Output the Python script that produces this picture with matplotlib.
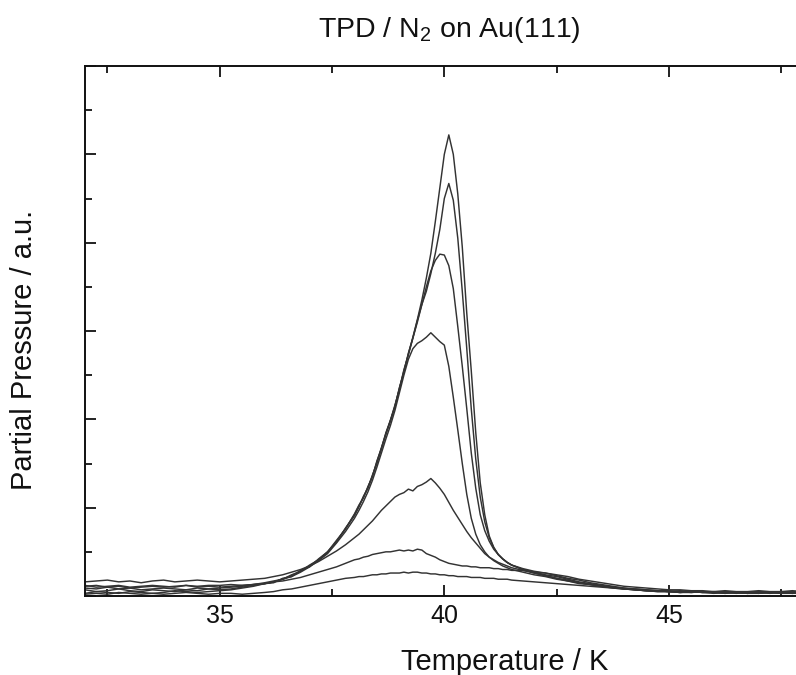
import matplotlib
matplotlib.use("Agg")
import matplotlib.pyplot as plt
from matplotlib.ticker import MultipleLocator, NullFormatter

plt.rcParams['font.family'] = ['Liberation Sans', 'DejaVu Sans']
plt.rcParams['mathtext.fontset'] = 'custom'
plt.rcParams['mathtext.rm'] = 'Liberation Sans'
plt.rcParams['mathtext.it'] = 'Liberation Sans:italic'

# ---------------- data ----------------
temperature = [
    32.0, 32.25, 32.5, 32.75, 33.0, 33.25, 33.5, 33.75, 34.0, 34.25, 34.5, 34.75,
    35.0, 35.25, 35.5, 35.75, 36.0,
    36.2, 36.4, 36.6, 36.8, 37.0, 37.2, 37.4, 37.6, 37.8, 38.0,
    38.1, 38.2, 38.3, 38.4, 38.5, 38.6, 38.7, 38.8, 38.9, 39.0,
    39.1, 39.2, 39.3, 39.4, 39.5, 39.6, 39.7, 39.8, 39.9, 40.0,
    40.1, 40.2, 40.3, 40.4, 40.5, 40.6, 40.7, 40.8, 40.9, 41.0,
    41.1, 41.2, 41.3, 41.4, 41.5,
    41.75, 42.0, 42.25, 42.5, 42.75, 43.0, 43.25, 43.5, 43.75, 44.0,
    44.25, 44.5, 44.75, 45.0, 45.25, 45.5, 45.75, 46.0, 46.25, 46.5,
    46.75, 47.0, 47.25, 47.5, 47.75, 48.0,
]

dose_1 = [
    0.07, 0.05, 0.06, 0.08, 0.06, 0.05, 0.07, 0.06, 0.05, 0.07, 0.06, 0.08,
    0.07, 0.08, 0.10, 0.12, 0.14,
    0.16, 0.19, 0.23, 0.28, 0.34, 0.41, 0.49, 0.62, 0.76, 0.92,
    1.02, 1.12, 1.23, 1.36, 1.52, 1.68, 1.84, 1.98, 2.15, 2.35,
    2.55, 2.74, 2.93, 3.13, 3.35, 3.60, 3.88, 4.24, 4.62, 5.00,
    5.22, 5.00, 4.55, 3.95, 3.20, 2.55, 1.85, 1.28, 0.92, 0.68,
    0.55, 0.47, 0.42, 0.38, 0.35,
    0.30, 0.26, 0.23, 0.20, 0.18, 0.15, 0.13, 0.11, 0.10, 0.08,
    0.07, 0.06, 0.05, 0.05, 0.04, 0.05, 0.04, 0.03, 0.04, 0.04,
    0.03, 0.04, 0.03, 0.04, 0.03, 0.04,
]

dose_2 = [
    0.03, 0.05, 0.04, 0.03, 0.05, 0.04, 0.03, 0.04, 0.06, 0.05, 0.04, 0.05,
    0.06, 0.07, 0.09, 0.11, 0.14,
    0.15, 0.20, 0.22, 0.29, 0.33, 0.42, 0.50, 0.61, 0.77, 0.91,
    1.01, 1.13, 1.22, 1.37, 1.50, 1.67, 1.85, 1.99, 2.14, 2.36,
    2.53, 2.75, 2.92, 3.12, 3.30, 3.45, 3.65, 3.88, 4.15, 4.50,
    4.67, 4.48, 4.05, 3.45, 2.80, 2.12, 1.55, 1.12, 0.84, 0.66,
    0.55, 0.47, 0.42, 0.38, 0.35,
    0.30, 0.27, 0.24, 0.22, 0.19, 0.16, 0.14, 0.12, 0.10, 0.09,
    0.07, 0.06, 0.06, 0.05, 0.05, 0.04, 0.05, 0.04, 0.03, 0.04,
    0.04, 0.03, 0.04, 0.04, 0.03, 0.03,
]

dose_3 = [
    0.09, 0.08, 0.10, 0.08, 0.09, 0.07, 0.08, 0.09, 0.08, 0.07, 0.09, 0.08,
    0.09, 0.10, 0.11, 0.13, 0.15,
    0.17, 0.19, 0.24, 0.28, 0.35, 0.41, 0.50, 0.63, 0.76, 0.93,
    1.03, 1.11, 1.24, 1.35, 1.53, 1.67, 1.83, 1.99, 2.16, 2.34,
    2.56, 2.73, 2.92, 3.10, 3.30, 3.50, 3.68, 3.80, 3.87, 3.86,
    3.74, 3.48, 3.05, 2.60, 2.12, 1.62, 1.22, 0.92, 0.74, 0.62,
    0.53, 0.47, 0.42, 0.38, 0.35,
    0.31, 0.28, 0.26, 0.23, 0.20, 0.18, 0.15, 0.13, 0.11, 0.09,
    0.08, 0.07, 0.06, 0.05, 0.06, 0.05, 0.04, 0.05, 0.04, 0.03,
    0.04, 0.05, 0.04, 0.03, 0.04, 0.04,
]

dose_4 = [
    0.11, 0.12, 0.10, 0.11, 0.09, 0.10, 0.11, 0.10, 0.11, 0.12, 0.10, 0.11,
    0.10, 0.11, 0.12, 0.13, 0.14,
    0.16, 0.19, 0.22, 0.27, 0.33, 0.40, 0.48, 0.60, 0.73, 0.88,
    0.97, 1.07, 1.18, 1.31, 1.46, 1.62, 1.78, 1.93, 2.10, 2.30,
    2.50, 2.68, 2.80, 2.86, 2.89, 2.93, 2.98, 2.93, 2.88, 2.84,
    2.60, 2.25, 1.88, 1.50, 1.15, 0.88, 0.70, 0.58, 0.50, 0.44,
    0.40, 0.37, 0.34, 0.32, 0.30,
    0.27, 0.24, 0.22, 0.19, 0.17, 0.15, 0.13, 0.11, 0.10, 0.08,
    0.07, 0.06, 0.05, 0.05, 0.04, 0.04, 0.05, 0.04, 0.03, 0.04,
    0.03, 0.03, 0.04, 0.03, 0.03, 0.04,
]

dose_5 = [
    0.16, 0.17, 0.18, 0.16, 0.17, 0.15, 0.17, 0.18, 0.16, 0.17, 0.18, 0.17,
    0.16, 0.17, 0.18, 0.19, 0.20,
    0.22, 0.24, 0.27, 0.30, 0.34, 0.39, 0.45, 0.51, 0.58, 0.66,
    0.70, 0.75, 0.80, 0.85, 0.91, 0.97, 1.02, 1.07, 1.12, 1.15,
    1.17, 1.21, 1.19, 1.24, 1.26, 1.29, 1.33, 1.28, 1.22, 1.15,
    1.06, 0.97, 0.89, 0.81, 0.73, 0.66, 0.60, 0.54, 0.48, 0.44,
    0.41, 0.38, 0.36, 0.34, 0.32,
    0.29, 0.26, 0.23, 0.20, 0.17, 0.14, 0.13, 0.11, 0.09, 0.08,
    0.07, 0.06, 0.06, 0.05, 0.04, 0.05, 0.04, 0.04, 0.05, 0.04,
    0.03, 0.04, 0.04, 0.05, 0.04, 0.04,
]

dose_6 = [
    0.12, 0.10, 0.11, 0.12, 0.10, 0.11, 0.12, 0.11, 0.10, 0.12, 0.11, 0.12,
    0.12, 0.13, 0.12, 0.13, 0.14,
    0.16, 0.17, 0.19, 0.21, 0.24, 0.27, 0.30, 0.33, 0.37, 0.41,
    0.42, 0.44, 0.45, 0.47, 0.48, 0.49, 0.50, 0.50, 0.51, 0.52,
    0.51, 0.52, 0.51, 0.53, 0.52, 0.48, 0.46, 0.44, 0.41, 0.39,
    0.37, 0.36, 0.35, 0.34, 0.34, 0.33, 0.33, 0.32, 0.32, 0.32,
    0.31, 0.31, 0.30, 0.30, 0.29,
    0.29, 0.27, 0.26, 0.24, 0.22, 0.19, 0.17, 0.15, 0.13, 0.11,
    0.10, 0.09, 0.08, 0.07, 0.07, 0.06, 0.06, 0.05, 0.06, 0.05,
    0.05, 0.06, 0.05, 0.05, 0.06, 0.05,
]

dose_7 = [
    0.02, 0.03, 0.02, 0.04, 0.03, 0.02, 0.03, 0.02, 0.03, 0.04, 0.03, 0.02,
    0.03, 0.03, 0.02, 0.03, 0.04,
    0.05, 0.07, 0.08, 0.10, 0.12, 0.14, 0.16, 0.18, 0.20, 0.21,
    0.22, 0.22, 0.23, 0.24, 0.24, 0.25, 0.25, 0.26, 0.26, 0.26,
    0.27, 0.26, 0.27, 0.27, 0.26, 0.26, 0.25, 0.25, 0.24, 0.24,
    0.23, 0.23, 0.22, 0.22, 0.22, 0.21, 0.21, 0.21, 0.20, 0.20,
    0.20, 0.19, 0.19, 0.19, 0.18,
    0.17, 0.16, 0.15, 0.14, 0.13, 0.12, 0.11, 0.10, 0.09, 0.08,
    0.08, 0.07, 0.06, 0.06, 0.05, 0.05, 0.05, 0.04, 0.05, 0.04,
    0.04, 0.05, 0.04, 0.04, 0.05, 0.04,
]

series = [dose_1, dose_2, dose_3, dose_4, dose_5, dose_6, dose_7]
x_ticks = [35, 40, 45]

# ---------------- figure ----------------
W, H = 796, 675
fig = plt.figure(figsize=(W / 100, H / 100), dpi=100)
ax = fig.add_axes([85 / W, 1 - 596 / H, (W - 85) / W, 530 / H])

for s in series:
    ax.plot(temperature, s, color='#333333', lw=1.05, solid_joinstyle='round')

ax.set_xlim(32, 47.83)
ax.set_ylim(0, 6)
ax.set_xticks(x_ticks)
ax.xaxis.set_minor_locator(MultipleLocator(2.5))
ax.yaxis.set_major_locator(MultipleLocator(1))
ax.yaxis.set_minor_locator(MultipleLocator(0.5))
ax.yaxis.set_major_formatter(NullFormatter())

ax.tick_params(which='both', direction='in', top=True, right=False,
               width=1.3, color='#111111')
ax.tick_params(which='major', length=8)
ax.tick_params(which='minor', length=5)
ax.tick_params(axis='x', labelsize=18, pad=6, labelcolor='#111111')

for side in ['left', 'bottom', 'top']:
    ax.spines[side].set_linewidth(1.4)
    ax.spines[side].set_color('#111111')
ax.spines['right'].set_visible(False)

fig.text(318 / W, 1 - 37 / H, 'TPD / N$_\\mathrm{2}$ on Au(111)', ha='left',
         va='baseline', fontsize=20.5, color='#111111')
fig.text(505 / W, 1 - 670 / H, 'Temperature / K', ha='center',
         va='baseline', fontsize=21, color='#111111')
fig.text(32 / W, 1 - 350 / H, 'Partial Pressure / a.u.', ha='center',
         va='baseline', rotation=90, fontsize=21, color='#111111',
         rotation_mode='anchor')

fig.savefig('out.png', dpi=100)
